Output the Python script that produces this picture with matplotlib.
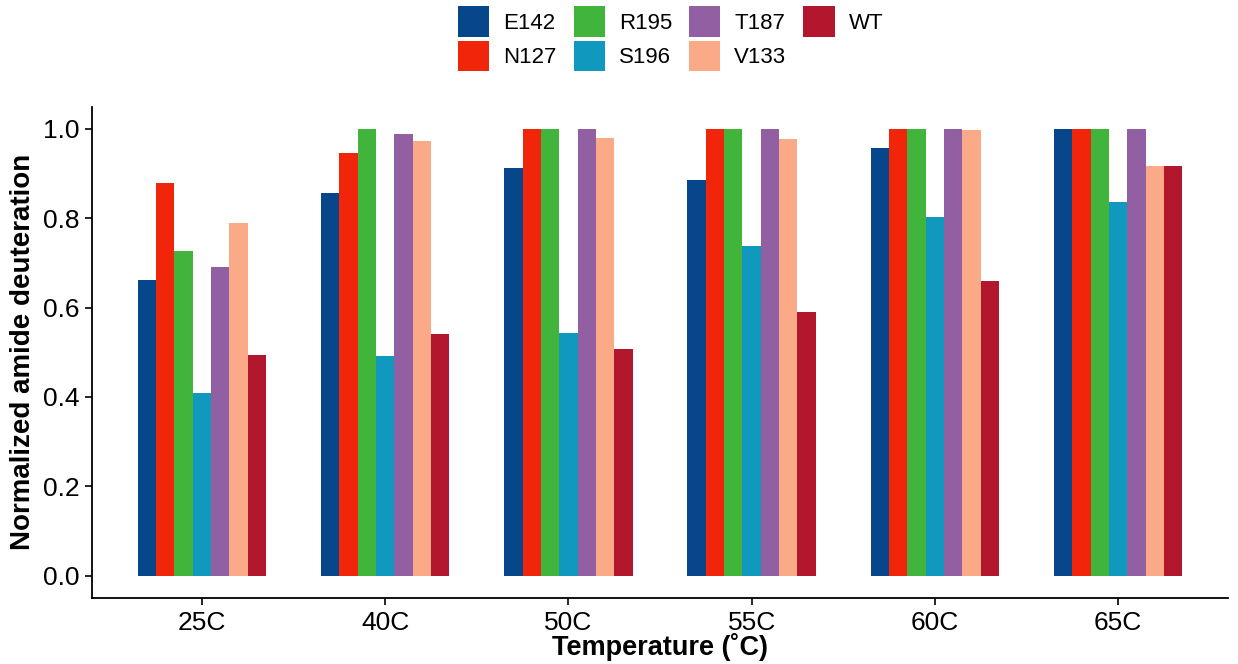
import matplotlib
matplotlib.use("Agg")
import matplotlib.pyplot as plt
import numpy as np

plt.rcParams['font.family'] = ['Liberation Sans', 'DejaVu Sans']

temperatures = ["25C", "40C", "50C", "55C", "60C", "65C"]
variants = ["E142", "N127", "R195", "S196", "T187", "V133", "WT"]

E142 = [0.661, 0.856, 0.912, 0.886, 0.958, 1.000]
N127 = [0.878, 0.946, 1.000, 1.000, 1.000, 1.000]
R195 = [0.727, 1.000, 1.000, 1.000, 1.000, 1.000]
S196 = [0.410, 0.491, 0.544, 0.737, 0.802, 0.837]
T187 = [0.692, 0.989, 1.000, 1.000, 1.000, 1.000]
V133 = [0.789, 0.973, 0.979, 0.978, 0.998, 0.916]
WT   = [0.494, 0.541, 0.507, 0.590, 0.659, 0.916]

colors = ["#08468C", "#F0250A", "#41B43C", "#1198BE", "#935FA3", "#FBAA88", "#B3172D"]
series = [E142, N127, R195, S196, T187, V133, WT]

W, H = 1238, 664
fig = plt.figure(figsize=(W / 100, H / 100), dpi=100)
ax = fig.add_axes([92 / W, 1 - 598 / H, (1228 - 92) / W, (598 - 106.6) / H])

x = np.arange(1, len(temperatures) + 1)
bw = 0.1
n = len(variants)
for i, (name, vals, c) in enumerate(zip(variants, series, colors)):
    ax.bar(x + (i - (n - 1) / 2) * bw, vals, width=bw, color=c, label=name,
           linewidth=0)

ax.set_xlim(0.4, 6.6)
ax.set_ylim(-0.05, 1.05)
ax.set_xticks(x)
ax.set_xticklabels(temperatures)
ax.set_yticks([0.0, 0.2, 0.4, 0.6, 0.8, 1.0])
ax.set_yticklabels(["0.0", "0.2", "0.4", "0.6", "0.8", "1.0"])
ax.tick_params(axis='both', labelsize=19, length=5, width=1.2, colors='black')
ax.tick_params(axis='x', pad=4)
ax.tick_params(axis='y', pad=4)
for s in ["top", "right"]:
    ax.spines[s].set_visible(False)
for s in ["left", "bottom"]:
    ax.spines[s].set_linewidth(1.3)

ax.set_xlabel("Temperature (˚C)", fontsize=19.5, fontweight='bold', labelpad=-1)
ax.set_ylabel("Normalized amide deuteration", fontsize=20, fontweight='bold', labelpad=5)

fig.legend(loc='upper left', bbox_to_anchor=(458 / W, 1 - 6 / H), ncol=4, frameon=False,
           fontsize=16, handlelength=1.4, handleheight=1.75, handletextpad=0.63,
           columnspacing=0.77, labelspacing=0.18, borderpad=0, borderaxespad=0)

fig.savefig("out.png", dpi=100, facecolor='white')
